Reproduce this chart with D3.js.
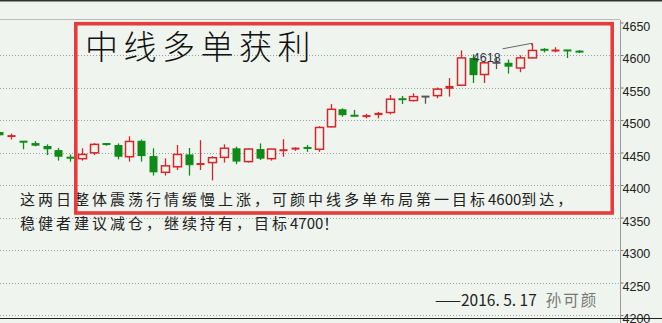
<!DOCTYPE html>
<html>
<head>
<meta charset="utf-8">
<script src="https://cdn.jsdelivr.net/npm/d3@7/dist/d3.min.js"></script>
<style>
  body { margin: 0; background: #eff5ee; }
  svg { display: block; }
</style>
</head>
<body>
<div id="chart"></div>
<script>
// daily candles (oldest first)
var opens  = [4481.5, 4475, 4466.8, 4464.5, 4460, 4453.7, 4443.5, 4440.5, 4449.5, 4463.5,
              4461.5, 4443.5, 4468, 4444.5, 4419.5, 4428, 4447, 4431.5, 4434.5, 4442.5,
              4456.5, 4436, 4455.3, 4440.5, 4452.5, 4455.5, 4457.5, 4455, 4489.5, 4516.5,
              4506.8, 4505, 4507.5, 4511.5, 4532.5, 4530, 4536, 4537.5, 4548, 4553.5,
              4595.5, 4570, 4588, 4588, 4580, 4595.5, 4609, 4606.5, 4607.2, 4606.5];
var highs  = [4482.5, 4479, 4467, 4467.5, 4462.5, 4457, 4447, 4456.5, 4464.5, 4464.5,
              4464, 4475, 4470, 4456.5, 4441, 4461.5, 4457, 4469, 4444.5, 4462.5,
              4459, 4456.5, 4464, 4455.5, 4470.5, 4458, 4461.5, 4490.5, 4524.5, 4518,
              4515.5, 4509.5, 4512.5, 4538.5, 4537, 4541, 4536.5, 4550, 4564.5, 4607,
              4601, 4590.5, 4597, 4593, 4599.5, 4618, 4610.5, 4612, 4607.5, 4607.5];
var lows   = [4475, 4470, 4455, 4459.5, 4446, 4437.5, 4436, 4437.5, 4446, 4460.5,
              4439.5, 4436, 4436, 4414.5, 4414.5, 4423, 4414.5, 4423, 4407, 4434.5,
              4432, 4434.5, 4438.5, 4437.5, 4443.5, 4452.5, 4451, 4451, 4488.5, 4505,
              4506, 4502.5, 4502.5, 4508.5, 4524.5, 4528.5, 4525, 4533.5, 4536, 4552,
              4557, 4557, 4578.5, 4571.5, 4573.5, 4595, 4604, 4604, 4595.5, 4603];
var closes = [4476.5, 4475.5, 4466.5, 4460.5, 4455, 4443.5, 4440.5, 4447, 4462.5, 4462.5,
              4443.5, 4467, 4444.5, 4419.5, 4429.5, 4447, 4430.5, 4433, 4442, 4456.5,
              4436, 4455.3, 4440.5, 4455.3, 4454.5, 4456.5, 4456.5, 4488.5, 4516.5, 4507.5,
              4506.3, 4507, 4511, 4532, 4531.5, 4536, 4536, 4547.5, 4552.5, 4595.5,
              4569, 4588, 4588, 4582, 4595.5, 4607, 4607, 4607.3, 4606.8, 4604];

var yTicks = [4200, 4250, 4300, 4350, 4400, 4450, 4500, 4550, 4600, 4650];

var peakIndex = 45;
var peakLabel = "4618";

var titleText = "中线多单获利";
var noteLines = ["这两日整体震荡行情缓慢上涨，可颜中线多单布局第一目标4600到达，",
                 "稳健者建议减仓，继续持有，目标4700！"];
var signDate = "——2016. 5. 17";
var signName = "孙可颜";

var width = 662, height = 323;
var bg = "#eff5ee";
var upColor = "#d6262b", downColor = "#0e8a18", flatColor = "#555";
var cjk = "'Noto Sans CJK SC', 'Noto Sans', sans-serif";

var days = d3.range(opens.length);

// price and day scales
var x = d3.scaleLinear().domain([0, days.length - 1]).range([-0.8, 579]);
var y = d3.scaleLinear().domain([4200, 4650]).range([315, 22.5]);
var axisX = 620;

var svg = d3.select("#chart").append("svg")
  .attr("width", width)
  .attr("height", height)
  .style("background", bg);

// frame lines
svg.append("line")
  .attr("x1", 0).attr("x2", width).attr("y1", 0.5).attr("y2", 0.5)
  .attr("stroke", "#333").attr("stroke-width", 2);
svg.append("line")
  .attr("x1", 0).attr("x2", axisX).attr("y1", 19.5).attr("y2", 19.5)
  .attr("stroke", "#b8bcb8");

// dotted grid
svg.append("g").selectAll("line")
  .data(yTicks.filter(function(d) { return d < 4650; }))
  .enter().append("line")
  .attr("x1", 0).attr("x2", axisX)
  .attr("y1", function(d) { return Math.round(y(d)) + 0.5; })
  .attr("y2", function(d) { return Math.round(y(d)) + 0.5; })
  .attr("stroke", "#9aa09a")
  .attr("stroke-dasharray", "1,2");

// right price axis
var axis = svg.append("g")
  .attr("transform", "translate(" + (axisX + 0.5) + ",0)")
  .call(d3.axisRight(y).tickValues(yTicks).tickFormat(d3.format("d"))
    .tickSize(3).tickSizeOuter(0));
axis.select(".domain").remove();
axis.append("line")
  .attr("y1", 20).attr("y2", height)
  .attr("stroke", "#9a9a9a");
axis.selectAll(".tick line").attr("stroke", "#777");
axis.selectAll(".tick text")
  .attr("x", 2)
  .attr("dy", "0.62em")
  .attr("dx", 0)
  .attr("fill", "#222")
  .style("font-family", "'Liberation Sans', Arial, sans-serif")
  .style("font-size", "12.5px");

// bottom frame line, it runs through the lowest label
svg.append("line")
  .attr("x1", 0).attr("x2", width).attr("y1", 318.5).attr("y2", 318.5)
  .attr("stroke", "#222");

// candles
var candle = svg.append("g").selectAll("g")
  .data(days)
  .enter().append("g");

function colorOf(i) {
  if (closes[i] > opens[i]) return upColor;
  if (closes[i] < opens[i]) return downColor;
  return flatColor;
}

candle.append("line")
  .attr("x1", function(i) { return Math.round(x(i)) + 0.5; })
  .attr("x2", function(i) { return Math.round(x(i)) + 0.5; })
  .attr("y1", function(i) { return y(highs[i]); })
  .attr("y2", function(i) { return y(lows[i]); })
  .attr("stroke", colorOf)
  .attr("stroke-width", 1.3);

candle.append("rect")
  .attr("x", function(i) { return Math.round(x(i)) - 3.5; })
  .attr("width", 8)
  .attr("y", function(i) {
    var top = y(Math.max(opens[i], closes[i]));
    var bot = y(Math.min(opens[i], closes[i]));
    return bot - top < 2 ? (top + bot) / 2 - 1 : top;
  })
  .attr("height", function(i) {
    return Math.max(y(Math.min(opens[i], closes[i])) - y(Math.max(opens[i], closes[i])), 2);
  })
  .attr("fill", function(i) {
    var tall = y(opens[i]) - y(closes[i]) > 3;
    return (closes[i] > opens[i] && tall) ? bg : colorOf(i);
  })
  .attr("stroke", function(i) {
    var tall = y(opens[i]) - y(closes[i]) > 3;
    return (closes[i] > opens[i] && tall) ? upColor : "none";
  })
  .attr("stroke-width", 1.5);

// peak note
var px = x(peakIndex), py = y(highs[peakIndex]);
svg.append("polyline")
  .attr("points", [[px - 29, py + 5.5], [px, py], [px, py + 2]].join(" "))
  .attr("fill", "none")
  .attr("stroke", "#444")
  .attr("stroke-width", 0.8);
svg.append("text")
  .attr("x", px - 31)
  .attr("y", py + 18.4)
  .attr("text-anchor", "end")
  .attr("fill", "#333344")
  .style("font-family", "'Liberation Sans', Arial, sans-serif")
  .style("font-size", "12.5px")
  .text(peakLabel);

// title and comment text
svg.append("text")
  .attr("x", 85)
  .attr("y", 59)
  .attr("fill", "#111")
  .style("font-family", cjk)
  .style("font-size", "33px")
  .style("font-weight", 300)
  .style("letter-spacing", "5.5px")
  .text(titleText);

noteLines.forEach(function(line, k) {
  var t = svg.append("text")
    .attr("x", 20)
    .attr("y", 205 + k * 24)
    .attr("fill", "#222")
    .style("font-family", cjk)
    .style("font-size", "15px");
  line.split(/(\d+)/).forEach(function(part) {
    if (part === "") return;
    t.append("tspan")
      .style("letter-spacing", /^\d+$/.test(part) ? "0px" : "3px")
      .text(part);
  });
});

var sign = svg.append("text")
  .attr("x", 435)
  .attr("y", 306)
  .attr("fill", "#222")
  .style("font-family", cjk)
  .style("font-size", "15.5px");
sign.append("tspan").text(signDate);
sign.append("tspan")
  .attr("dx", 9)
  .attr("fill", "#777")
  .style("letter-spacing", "2px")
  .text(signName);

// red box drawn over everything
svg.append("rect")
  .attr("x", 75.8)
  .attr("y", 23.7)
  .attr("width", 612.2 - 75.8)
  .attr("height", 213 - 23.7)
  .attr("fill", "none")
  .attr("stroke", "#e63c3e")
  .attr("stroke-width", 3.6);
</script>
</body>
</html>
